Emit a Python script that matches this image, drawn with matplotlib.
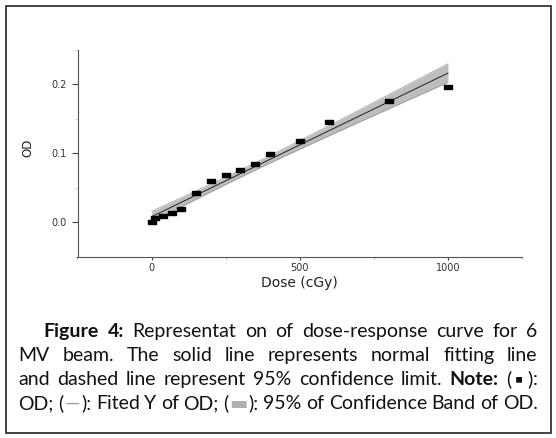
import matplotlib
matplotlib.use("Agg")
import matplotlib.pyplot as plt
import numpy as np
from matplotlib.ticker import MultipleLocator, FormatStrFormatter
from matplotlib.patches import Rectangle

# dose-response data
dose = [0, 10, 40, 70, 100, 150, 200, 250, 300, 350, 400, 500, 600, 800, 1000]
od = [0.000, 0.006, 0.009, 0.0135, 0.019, 0.042, 0.060, 0.0685, 0.075,
      0.084, 0.099, 0.118, 0.145, 0.1765, 0.1965]

W, H = 556, 438
fig = plt.figure(figsize=(W / 100, H / 100), dpi=100)

def fx(px):
    return px / W

def fy(py):
    return 1 - py / H

ax = fig.add_axes([fx(77.5), fy(256.5), fx(522) - fx(77.5), fy(50) - fy(256.5)])

# linear fit + 95% confidence band
x = np.array(dose, float)
y = np.array(od, float)
slope, inter = np.polyfit(x, y, 1)
resid = y - (slope * x + inter)
n = len(x)
s = np.sqrt(np.sum(resid ** 2) / (n - 2))
t95 = 2.160  # t(0.975, 13)
xx = np.linspace(0, 1000, 200)
yy = slope * xx + inter
half = t95 * s * np.sqrt(1 / n + (xx - x.mean()) ** 2 / np.sum((x - x.mean()) ** 2))

ax.fill_between(xx, yy - half, yy + half, color="#bdbdbd", lw=0, zorder=1)
ax.plot(xx, yy - half, color="#969696", lw=0.5, zorder=2)
ax.plot(xx, yy + half, color="#969696", lw=0.5, zorder=2)
ax.plot(xx, yy, color="#222222", lw=0.7, zorder=3)

rect = [(-1, -0.6), (1, -0.6), (1, 0.6), (-1, 0.6), (-1, -0.6)]
ax.plot(dose, od, ls="none", marker=rect, ms=5.8, color="black", zorder=4)

ax.set_xlim(-250, 1250)
ax.set_ylim(-0.05, 0.25)
ax.xaxis.set_major_locator(MultipleLocator(500))
ax.xaxis.set_minor_locator(MultipleLocator(250))
ax.yaxis.set_major_locator(MultipleLocator(0.1))
ax.yaxis.set_minor_locator(MultipleLocator(0.05))
ax.yaxis.set_major_formatter(FormatStrFormatter("%.1f"))

for side in ["top", "right"]:
    ax.spines[side].set_visible(False)
for side in ["left", "bottom"]:
    ax.spines[side].set_color("#555555")
    ax.spines[side].set_linewidth(0.8)

ax.tick_params(axis="x", which="major", length=2.5, width=0.8, color="#444444",
               pad=2, labelsize=7, labelcolor="#333333")
ax.tick_params(axis="x", which="minor", length=1.5, width=0.5, color="#888888")
ax.tick_params(axis="y", which="major", length=4.3, width=0.8, color="#444444",
               pad=3.5, labelsize=7, labelcolor="#333333")
ax.tick_params(axis="y", which="minor", length=2, width=0.5, color="#bbbbbb")

ax.set_xlabel("Dose (cGy)", fontsize=10, color="#222222")
ax.set_ylabel("OD", fontsize=8.5, color="#222222")
ax.xaxis.set_label_coords(0.5, -0.095)
ax.yaxis.set_label_coords(-0.096, 0.525)

# border box
fig.patches.append(Rectangle((fx(6), fy(432.5)), fx(550.5) - fx(6), fy(6) - fy(432.5),
                             transform=fig.transFigure, fill=False,
                             edgecolor="#222222", lw=1.2))

# caption, justified word by word
cap_font = ["Lato", "DejaVu Sans"]
cap_size = 14
N, B = "normal", "bold"
K, G, LG = "#111111", "#a0a0a0", "#b0b0b0"

lines = [
    (43.5, 337, [[("Figure", B, K)], [("4:", B, K)], [("Representat", N, K)], [("on", N, K)],
                 [("of", N, K)], [("dose-response", N, K)], [("curve", N, K)], [("for", N, K)],
                 [("6", N, K)]]),
    (18.5, 361, [[("MV", N, K)], [("beam.", N, K)], [("The", N, K)], [("solid", N, K)],
                 [("line", N, K)], [("represents", N, K)], [("normal", N, K)],
                 [("fitting", N, K)], [("line", N, K)]]),
    (18.5, 385, [[("and", N, K)], [("dashed", N, K)], [("line", N, K)], [("represent", N, K)],
                 [("95%", N, K)], [("confidence", N, K)], [("limit.", N, K)],
                 [("Note:", B, K)], [("(", N, K), ("\u25aa", B, K), (")", N, K), (":", N, K)]]),
    (18.5, 409, [[("OD;", N, K)], [("(", N, K), ("\u2014", N, G), ("):", N, K)],
                 [("Fited", N, K)], [("Y", N, K)], [("of", N, K)], [("OD;", N, K)],
                 [("(", N, K), ("\u25ac", N, LG), ("):", N, K)], [("95%", N, K)],
                 [("of", N, K)], [("Confidence", N, K)], [("Band", N, K)], [("of", N, K)],
                 [("OD.", N, K)]]),
]
right_edge = 537.5

fig.canvas.draw()
renderer = fig.canvas.get_renderer()

for x0, base, words in lines:
    word_objs = []
    total = 0
    for w in words:
        objs = []
        for txt, wt, col in w:
            pad = 4 if txt == "\u25aa" else (1 if txt in ("\u2014", "\u25ac") else 0)
            t = fig.text(0, fy(base), txt, fontsize=cap_size, fontweight=wt, color=col,
                         family=cap_font, va="baseline", ha="left")
            wd = t.get_window_extent(renderer).width
            objs.append((t, wd, pad))
        ww = sum(o[1] + 2 * o[2] for o in objs)
        word_objs.append((objs, ww))
        total += ww
    gap = (right_edge - x0 - total) / (len(words) - 1)
    cur = x0
    for objs, ww in word_objs:
        cx = cur
        for t, wd, pad in objs:
            cx += pad
            t.set_x(fx(cx))
            cx += wd + pad
        cur += ww + gap

fig.savefig("out.png", dpi=100)
